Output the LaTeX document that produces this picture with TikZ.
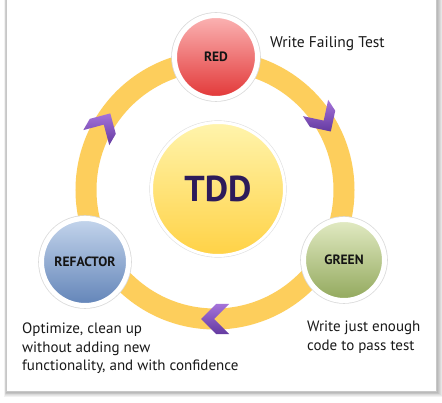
\documentclass[tikz,border=0pt]{standalone}
\usepackage{fontspec}
\setmainfont{PT Sans}
\usetikzlibrary{calc}
\definecolor{ringcol}{RGB}{253,206,92}
\definecolor{redtop}{RGB}{251,180,180}
\definecolor{redmid}{RGB}{243,105,105}
\definecolor{redbot}{RGB}{226,55,55}
\definecolor{greentop}{RGB}{226,235,196}
\definecolor{greenmid}{RGB}{196,212,150}
\definecolor{greenbot}{RGB}{146,168,92}
\definecolor{bluetop}{RGB}{196,213,236}
\definecolor{bluemid}{RGB}{150,178,215}
\definecolor{bluebot}{RGB}{98,132,184}
\definecolor{yeltop}{RGB}{255,244,172}
\definecolor{yelmid}{RGB}{255,230,120}
\definecolor{yelbot}{RGB}{255,210,70}
\definecolor{tddtext}{RGB}{45,27,90}
\definecolor{purlight}{RGB}{165,115,218}
\definecolor{purdark}{RGB}{100,58,160}
\definecolor{captext}{RGB}{25,25,25}
\begin{document}
\begin{tikzpicture}[x=1pt,y=1pt,
  caption/.style={font=\fontsize{15}{18.5}\selectfont, text=captext, align=left, inner sep=0pt},
  ball/.style={circle, draw=white, inner sep=0pt, text=black!92,
    font=\bfseries\fontsize{13.5}{15}\selectfont},
  chev/.style={top color=purlight, bottom color=purdark}]
\useasboundingbox (0,0) rectangle (442,402);
% page with shadow
\foreach \i in {1,...,6}
  \fill[black,opacity=0.05] (6-0.4*\i+0.5,11-0.8*\i-1) rectangle (436+0.9*\i+1,420);
\fill[white] (6,11) rectangle (436,420);
\draw[black!22,line width=0.5pt] (6,420) -- (6,11) -- (436,11) -- (436,420);
% ring
\coordinate (rc) at (215,212);
\draw[ringcol, line width=21pt] (rc) circle[radius=129];
% chevrons
\foreach \a in {33,150,270}
  \shade[chev, shift={($(rc)+(\a:129)$)}, rotate=\a-90]
    (-14,15) -- (-1,15) -- (14,0) -- (-1,-15) -- (-14,-15) -- (1,0) -- cycle;
% ball outlines
\fill[black!14] (216,345) circle[radius=44.8];
\fill[black!14] (344,142) circle[radius=43.8];
\fill[black!14] (85,140) circle[radius=46.8];
\fill[black!12] (218,213) circle[radius=68.6];
% balls
\node[ball, line width=5pt, minimum size=83pt, top color=redtop, middle color=redmid, bottom color=redbot] (red) at (216,345) {RED};
\node[ball, line width=5pt, minimum size=81pt, top color=greentop, middle color=greenmid, bottom color=greenbot] (green) at (344,142) {GREEN};
\node[ball, line width=5pt, minimum size=87pt, top color=bluetop, middle color=bluemid, bottom color=bluebot] (refactor) at (85,140) {REFACTOR};
\node[ball, line width=3pt, minimum size=133pt, top color=yeltop, middle color=yelmid, bottom color=yelbot, text=tddtext, font=\bfseries\fontsize{36}{40}\selectfont] (tdd) at (218,213) {TDD};
% captions
\node[caption, anchor=base west, font=\fontsize{15.5}{18.5}\selectfont] (capred) at (270,354) {Write Failing Test};
\node[caption, anchor=north west] (capgreen) at (307,81) {Write just enough\\code to pass test};
\node[caption, anchor=north west] (caprefactor) at (22,79) {Optimize, clean up\\without adding new\\functionality, and with confidence};
\end{tikzpicture}
\end{document}
